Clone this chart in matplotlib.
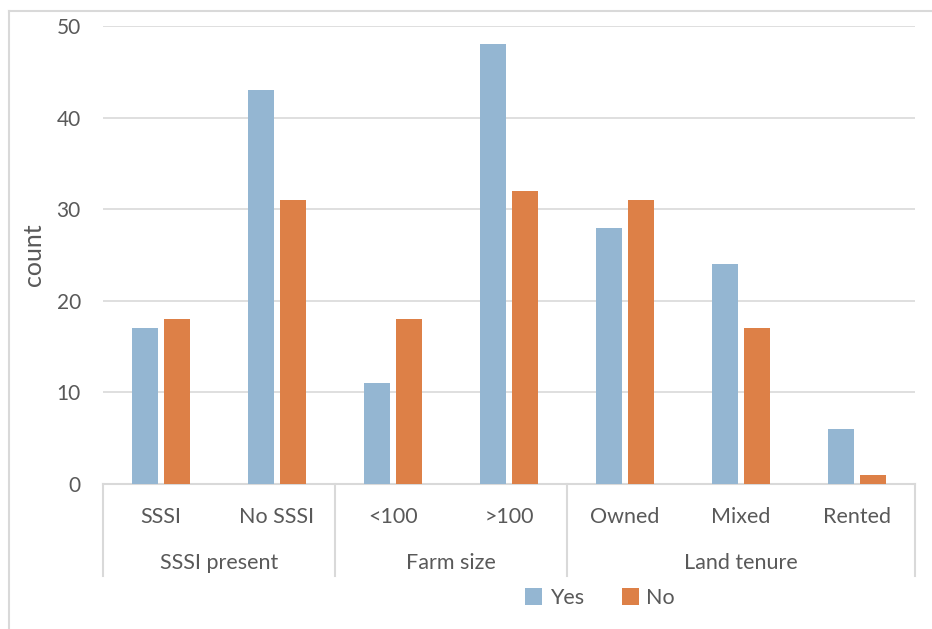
import matplotlib.pyplot as plt
import numpy as np
from matplotlib.lines import Line2D

# survey counts by group
categories = ['SSSI', 'No SSSI', '<100', '>100', 'Owned', 'Mixed', 'Rented']
groups = ['SSSI present', 'Farm size', 'Land tenure']
group_sizes = [2, 2, 3]
yes = [17, 43, 11, 48, 28, 24, 6]
no = [18, 31, 18, 32, 31, 17, 1]

plt.rcParams['font.family'] = ['Lato', 'DejaVu Sans']
txt = '#595959'
grid = '#d9d9d9'

W, H = 932, 629
fig = plt.figure(figsize=(W / 100, H / 100), dpi=100)
ax = fig.add_axes([103 / W, (H - 484) / H, 812 / W, 458 / H])

x = np.arange(len(categories))
ax.bar(x - 0.14, yes, width=0.22, color='#94b6d2', label='Yes', zorder=3)
ax.bar(x + 0.14, no, width=0.22, color='#dd8047', label='No', zorder=3)

ax.set_xlim(-0.5, len(categories) - 0.5)
ax.set_ylim(0, 50)
ax.set_yticks(range(0, 51, 10))
ax.yaxis.grid(True, color=grid, linewidth=1.2, zorder=0)
ax.tick_params(axis='y', length=0, pad=16, labelsize=15, labelcolor=txt)
ax.set_xticks([])
for s in ['top', 'right', 'left']:
    ax.spines[s].set_visible(False)
ax.spines['bottom'].set_color(grid)
ax.spines['bottom'].set_linewidth(1.5)

ax.set_ylabel('count', fontsize=18, color=txt, labelpad=8)

# two-level category axis
tr = ax.get_xaxis_transform()
for i, c in enumerate(categories):
    ax.text(i, -0.071, c, transform=tr, ha='center', va='center',
            fontsize=15.5, color=txt)
edges = np.concatenate([[0], np.cumsum(group_sizes)]) - 0.5
for b in edges:
    ax.plot([b, b], [0, -0.2], transform=tr, color=grid, lw=1.5,
            clip_on=False)
for g, lo, hi in zip(groups, edges[:-1], edges[1:]):
    ax.text((lo + hi) / 2, -0.172, g, transform=tr, ha='center',
            va='center', fontsize=15.5, color=txt)

fig.legend(loc='center', bbox_to_anchor=(600 / W, (H - 598) / H), ncol=2,
           frameon=False, fontsize=15.5, labelcolor=txt, handlelength=0.8,
           handleheight=0.8, handletextpad=0.35, columnspacing=1.75)

# chart frame
fig.add_artist(Line2D([8.5 / W, 1], [(H - 11) / H] * 2, color=grid, lw=1.5))
fig.add_artist(Line2D([8.5 / W] * 2, [0, (H - 11) / H], color=grid, lw=1.5))

fig.savefig('out.png', dpi=100)
